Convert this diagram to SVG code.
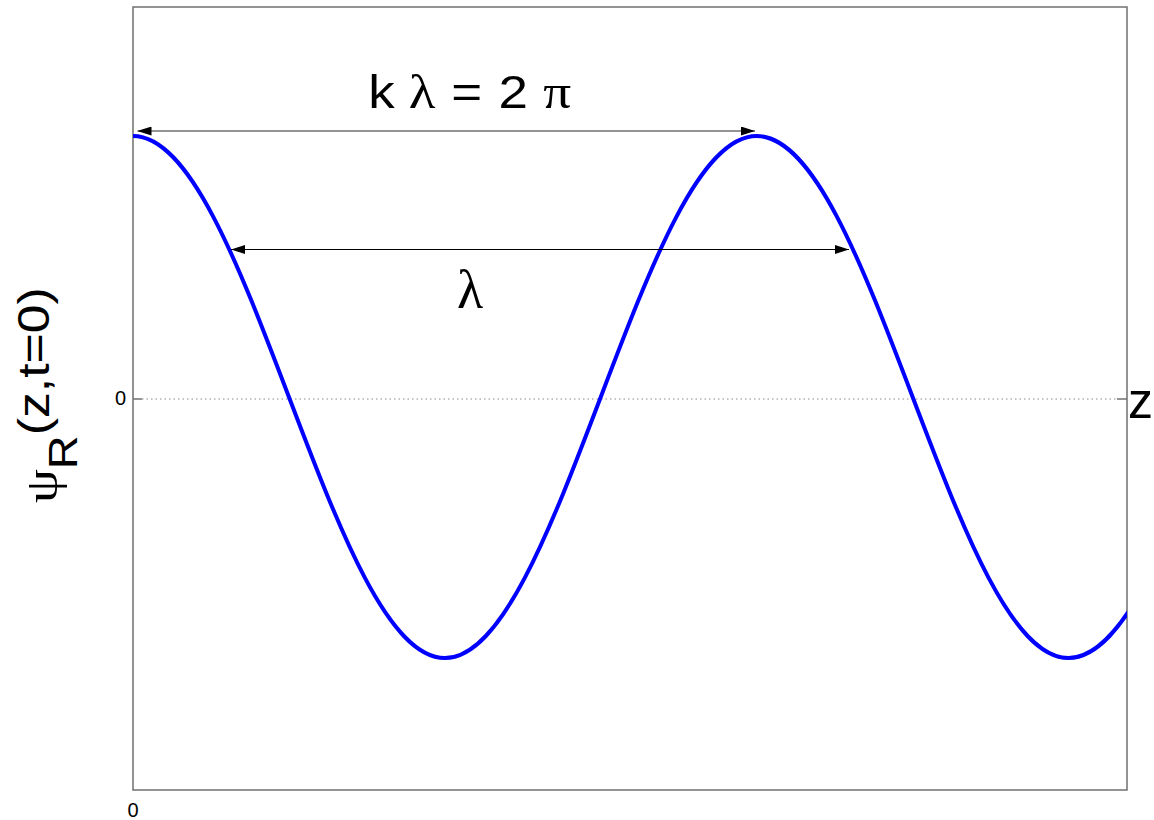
<svg xmlns="http://www.w3.org/2000/svg" width="1154" height="820" viewBox="0 0 1154 820">
  <style>
    .sans { font-family: "Liberation Sans", Arial, sans-serif; fill: #000; }
    .serif { font-family: "Liberation Serif", "Times New Roman", serif; fill: #000; }
    .axis { fill: none; stroke: #707070; stroke-width: 1.5; }
  </style>
  <defs>
    <marker id="head" viewBox="0 0 14 9" refX="14" refY="4.5" markerWidth="14" markerHeight="9" markerUnits="userSpaceOnUse" orient="auto-start-reverse">
      <path d="M0,0 L14,4.5 L0,9 z" fill="#000"/>
    </marker>
    <clipPath id="plotclip">
      <rect x="133" y="0" width="994" height="820"/>
    </clipPath>
  </defs>
  <rect width="1154" height="820" fill="#fff"/>

  <g id="axes">
    <rect class="axis" x="133" y="7" width="994" height="783"/>
    <line x1="142" y1="399" x2="1117" y2="399" stroke="#8a8a8a" stroke-width="1.2" stroke-dasharray="1.5,3"/>
    <line x1="133" y1="399" x2="142" y2="399" stroke="#707070" stroke-width="1.5"/>
    <line x1="1117" y1="399" x2="1127" y2="399" stroke="#707070" stroke-width="1.5"/>
    <text class="sans" x="126" y="405" font-size="20" text-anchor="end">0</text>
    <text class="sans" x="133" y="817" font-size="20" text-anchor="middle">0</text>
  </g>

  <g id="curve" clip-path="url(#plotclip)">
    <path d="M133,136 c56.43,0 105.07,127.29 155.925,261 c50.855,133.71 99.495,261 155.925,261 c56.43,0 105.07,-127.29 155.925,-261 c50.855,-133.71 99.495,-261 155.925,-261 c56.43,0 105.07,127.29 155.925,261 c50.855,133.71 99.495,261 155.925,261 c56.43,0 105.07,-127.29 155.925,-261" fill="none" stroke="#0000ff" stroke-width="4" stroke-linejoin="round"/>
  </g>

  <g id="connectors">
    <line x1="137.5" y1="131" x2="755" y2="131" stroke="#707070" stroke-width="1.5" marker-start="url(#head)" marker-end="url(#head)"/>
    <line x1="231" y1="249.5" x2="849" y2="249.5" stroke="#000" stroke-width="1.2" marker-start="url(#head)" marker-end="url(#head)"/>
  </g>

  <g id="label-klambda">
    <text transform="translate(0,108) scale(1.15,1)" font-size="46"><tspan class="sans" x="320.3">k</tspan><tspan class="serif" x="355.5" font-size="48">λ</tspan><tspan class="sans" x="392.5">=</tspan><tspan class="sans" x="433.5">2</tspan><tspan class="serif" x="472.5" font-size="48">π</tspan></text>
  </g>

  <g id="label-lambda">
    <text class="serif" x="457" y="308" font-size="54">λ</text>
  </g>

  <g id="label-z">
    <text class="sans" x="1128" y="418" font-size="50">z</text>
  </g>

  <g id="label-ylabel">
    <text transform="translate(49,503) rotate(-90) scale(1.175,1)" font-size="44"><tspan class="serif" x="0" dy="8" font-size="46">ψ</tspan><tspan class="sans" dy="20" font-size="40">R</tspan><tspan class="sans" dy="-28">(z,t=0)</tspan></text>
  </g>
</svg>
